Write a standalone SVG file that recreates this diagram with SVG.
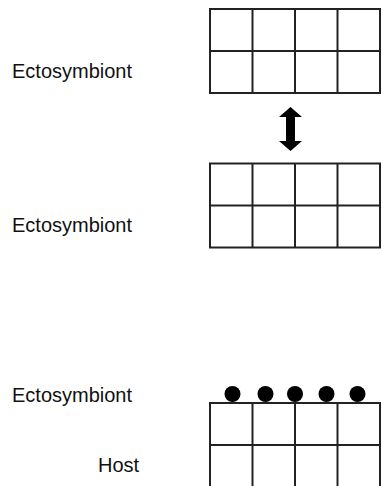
<svg xmlns="http://www.w3.org/2000/svg" width="382" height="486" viewBox="0 0 382 486">
<style>
.lbl{font-family:"Liberation Sans",Arial,sans-serif;font-size:20px;fill:#111}
.grid{fill:#fff;stroke:#222;stroke-width:2}
.ln{stroke:#222;stroke-width:2;fill:none}
.dot{fill:#000}
</style>
<rect width="382" height="486" fill="#fff"/>
<g id="label-ecto-1"><text class="lbl" x="12" y="78">Ectosymbiont</text></g>
<g id="label-ecto-2"><text class="lbl" x="12" y="232">Ectosymbiont</text></g>
<g id="label-ecto-3"><text class="lbl" x="12" y="402">Ectosymbiont</text></g>
<g id="label-host"><text class="lbl" x="98" y="472">Host</text></g>
<g id="grid-1">
<rect class="grid" x="210" y="9" width="170" height="84"/>
<path class="ln" d="M210 51H380M252.5 9V93M295 9V93M337.5 9V93"/>
</g>
<g id="grid-2">
<rect class="grid" x="210" y="163.5" width="170" height="84"/>
<path class="ln" d="M210 205.5H380M252.5 163.5V247.5M295 163.5V247.5M337.5 163.5V247.5"/>
</g>
<g id="host-grid">
<path class="ln" d="M210 488V403H380V488M210 445H380M252.5 403V488M295 403V488M337.5 403V488"/>
</g>
<g id="ectosymbionts">
<circle class="dot" cx="232.5" cy="394" r="8"/>
<circle class="dot" cx="265.5" cy="394" r="8"/>
<circle class="dot" cx="295" cy="394" r="8"/>
<circle class="dot" cx="326.5" cy="394" r="8"/>
<circle class="dot" cx="357.5" cy="394" r="8"/>
</g>
<g id="connectors">
<path fill="#000" d="M290.5 107L302 117H295V141H302L290.5 151L279 141H286V117H279Z"/>
</g>
</svg>
